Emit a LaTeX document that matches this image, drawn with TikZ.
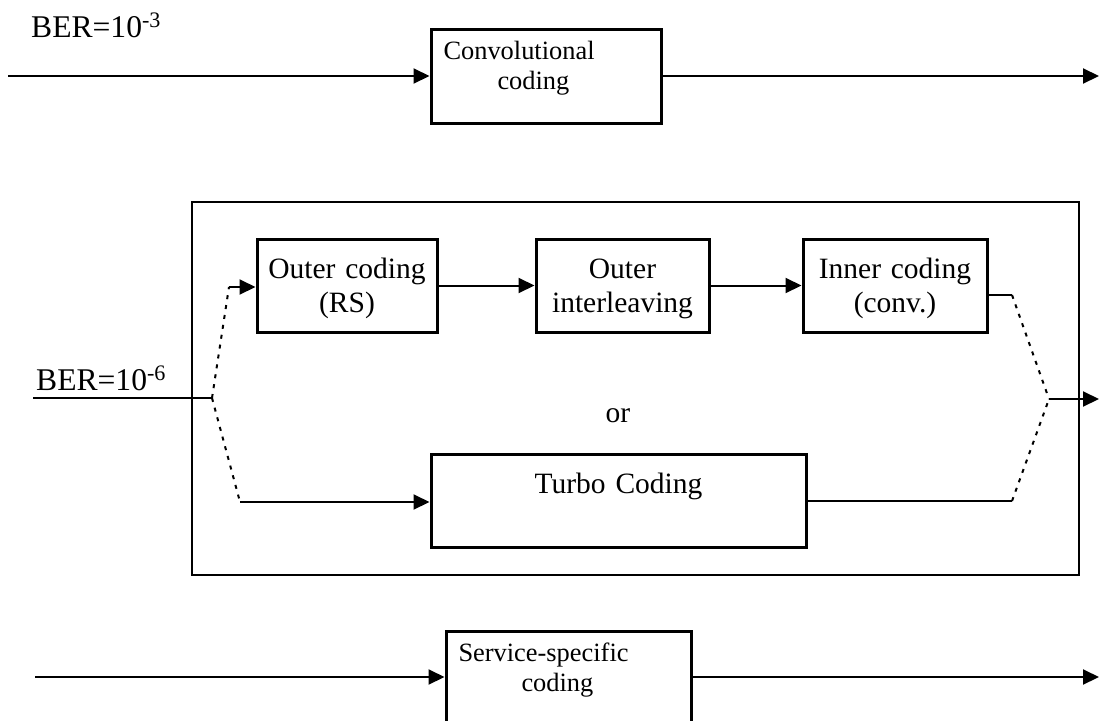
\documentclass[tikz,border=0pt]{standalone}
\usepackage{fontspec}
\setmainfont{Liberation Serif}
\usetikzlibrary{arrows.meta, positioning}

\newcommand{\smallblk}{\fontsize{26.4}{30}\selectfont}
\newcommand{\bigblk}{\fontsize{29.5}{34}\selectfont}
\newcommand{\berfont}{\fontsize{31.6}{36}\selectfont}

\begin{document}
\begin{tikzpicture}[
  x=1pt, y=-1pt,
  blk/.style={draw, line width=3pt, inner sep=0pt, align=center,
              text height=39pt, text depth=54pt, font=\bigblk},
  sidebox/.style={draw, line width=3pt, inner ysep=0pt, inner xsep=12.5pt,
              align=left, text height=30pt, text depth=64pt, font=\smallblk},
  framebox/.style={draw, line width=1.8pt, inner sep=0pt},
  arr/.style={-{Triangle[length=16pt, width=15pt]}, line width=2pt},
  wire/.style={line width=2pt},
  dots/.style={line width=2pt, dash pattern=on 4pt off 6pt}
]
\useasboundingbox (0,0) rectangle (1099,720);

% BER = 10^-3 path
\node[anchor=base west, font=\berfont, inner sep=0pt] (ber3) at (31,37) {BER=10\textsuperscript{-3}};
\node[sidebox, text width=205pt] (conv) at (546,76) {Convolutional\\\hspace*{54pt}coding};
\coordinate (in3) at (8,76);
\coordinate (out3) at (1099,76);
\draw[arr] (in3) -- (conv.west);
\draw[arr] (conv.east) -- (out3);

% BER = 10^-6 path
\node[framebox, minimum width=887pt, minimum height=373pt] (sys) at (635.5,388.5) {};
\node[blk, text width=180pt] (oc) at (347,285.5) {Outer coding\\(RS)};
\node[blk, text width=173pt, right=96pt of oc] (oi) {Outer\\interleaving};
\node[blk, text width=184pt, right=91pt of oi] (ic) {Inner coding\\(conv.)};
\node[blk, text width=375pt] (tc) at (618.5,500.5) {Turbo Coding};
\node[anchor=base, font=\bigblk, inner sep=0pt] (or) at (618,422) {or};
\node[anchor=base west, font=\berfont, inner sep=0pt] (ber6) at (36,390) {BER=10\textsuperscript{-6}};

\coordinate (in6) at (33,398);
\coordinate (sl) at (212,398);
\coordinate (ul) at (229,287);
\coordinate (dl) at (240,502);
\coordinate (ur) at (1012,295);
\coordinate (dr) at (1012,501);
\coordinate (sr) at (1049,399);
\coordinate (out6) at (1099,399);

\draw[wire] (in6) -- (sl);
\draw[dots] (sl) -- (ul);
\draw[dots] (sl) -- (dl);
\draw[arr] (ul) -- (ul -| oc.west);
\draw[arr] (dl) -- (dl -| tc.west);
\draw[arr] (oc.east) -- (oi.west);
\draw[arr] (oi.east) -- (ic.west);
\draw[wire] (ur -| ic.east) -- (ur);
\draw[wire] (dr -| tc.east) -- (dr);
\draw[dots] (ur) -- (sr);
\draw[dots] (dr) -- (sr);
\draw[arr] (sr) -- (out6);

% service-specific path
\node[sidebox, text width=220pt] (ss) at (568.5,678) {Service-specific\\\hspace*{63pt}coding};
\coordinate (in0) at (35,677);
\coordinate (out0) at (1099,677);
\draw[arr] (in0) -- (in0 -| ss.west);
\draw[arr] (ss.east |- out0) -- (out0);
\end{tikzpicture}
\end{document}
